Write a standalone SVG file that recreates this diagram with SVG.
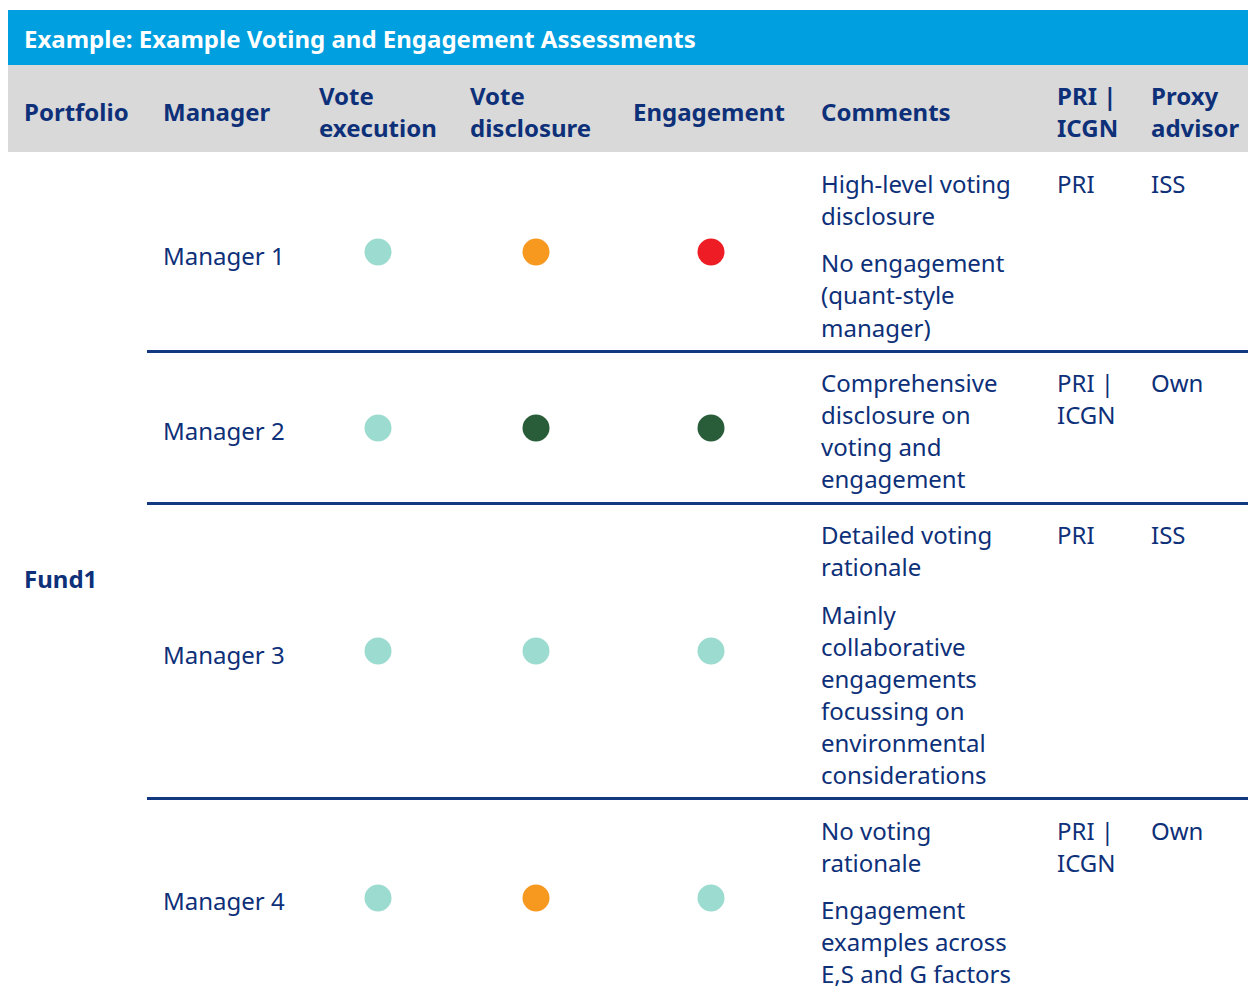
<svg xmlns="http://www.w3.org/2000/svg" width="1248" height="991" viewBox="0 0 1248 991">
<style>
text{font-family:"Noto Sans","Open Sans","DejaVu Sans",sans-serif;fill:#0D3079;font-size:24px}
.h{font-weight:bold}
.t{font-weight:bold;fill:#ffffff;font-size:24px}
.sep{stroke:#12397F;stroke-width:3}
.teal{fill:#9CDBCF}.orange{fill:#F7981F}.red{fill:#EE1D25}.green{fill:#295D39}
</style>
<rect width="1248" height="991" fill="#ffffff"/>
<g id="title">
<rect x="8" y="10" width="1240" height="55" fill="#009FE0"/>
<text class="t" x="24" y="48">Example: Example Voting and Engagement Assessments</text>
</g>
<g id="header">
<rect x="8" y="65" width="1240" height="87" fill="#D9D9D9"/>
<text class="h" x="24" y="121">Portfolio</text>
<text class="h" x="163" y="121">Manager</text>
<text class="h" x="319" y="105">Vote</text>
<text class="h" x="319" y="137">execution</text>
<text class="h" x="470" y="105">Vote</text>
<text class="h" x="470" y="137">disclosure</text>
<text class="h" x="633" y="121">Engagement</text>
<text class="h" x="821" y="121">Comments</text>
<text class="h" x="1057" y="105">PRI |</text>
<text class="h" x="1057" y="137">ICGN</text>
<text class="h" x="1151" y="105">Proxy</text>
<text class="h" x="1151" y="137">advisor</text>
</g>
<g id="fund1">
<text class="h" x="24" y="588">Fund1</text>
</g>
<g id="connectors">
<line class="sep" x1="147" y1="351.5" x2="1248" y2="351.5"/>
<line class="sep" x1="147" y1="503.5" x2="1248" y2="503.5"/>
<line class="sep" x1="147" y1="798.5" x2="1248" y2="798.5"/>
</g>
<g id="manager1">
<text x="163" y="265">Manager 1</text>
<circle class="teal" cx="378" cy="252" r="13.5"/>
<circle class="orange" cx="536" cy="252" r="13.5"/>
<circle class="red" cx="711" cy="252" r="13.5"/>
<text x="821" y="193">High-level voting</text>
<text x="821" y="225">disclosure</text>
<text x="821" y="272">No engagement</text>
<text x="821" y="304">(quant-style</text>
<text x="821" y="337">manager)</text>
<text x="1057" y="193">PRI</text>
<text x="1151" y="193">ISS</text>
</g>
<g id="manager2">
<text x="163" y="440">Manager 2</text>
<circle class="teal" cx="378" cy="428" r="13.5"/>
<circle class="green" cx="536" cy="428" r="13.5"/>
<circle class="green" cx="711" cy="428" r="13.5"/>
<text x="821" y="392">Comprehensive</text>
<text x="821" y="424">disclosure on</text>
<text x="821" y="456">voting and</text>
<text x="821" y="488">engagement</text>
<text x="1057" y="392">PRI |</text>
<text x="1057" y="424">ICGN</text>
<text x="1151" y="392">Own</text>
</g>
<g id="manager3">
<text x="163" y="664">Manager 3</text>
<circle class="teal" cx="378" cy="651" r="13.5"/>
<circle class="teal" cx="536" cy="651" r="13.5"/>
<circle class="teal" cx="711" cy="651" r="13.5"/>
<text x="821" y="544">Detailed voting</text>
<text x="821" y="576">rationale</text>
<text x="821" y="624">Mainly</text>
<text x="821" y="656">collaborative</text>
<text x="821" y="688">engagements</text>
<text x="821" y="720">focussing on</text>
<text x="821" y="752">environmental</text>
<text x="821" y="784">considerations</text>
<text x="1057" y="544">PRI</text>
<text x="1151" y="544">ISS</text>
</g>
<g id="manager4">
<text x="163" y="910">Manager 4</text>
<circle class="teal" cx="378" cy="898" r="13.5"/>
<circle class="orange" cx="536" cy="898" r="13.5"/>
<circle class="teal" cx="711" cy="898" r="13.5"/>
<text x="821" y="840">No voting</text>
<text x="821" y="872">rationale</text>
<text x="821" y="919">Engagement</text>
<text x="821" y="951">examples across</text>
<text x="821" y="983">E,S and G factors</text>
<text x="1057" y="840">PRI |</text>
<text x="1057" y="872">ICGN</text>
<text x="1151" y="840">Own</text>
</g>
</svg>
